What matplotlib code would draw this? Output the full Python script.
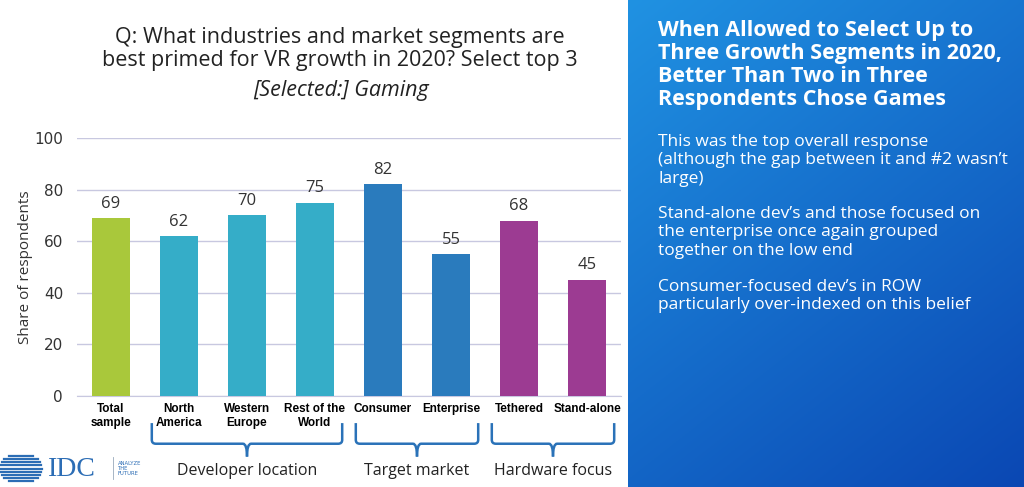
import matplotlib
matplotlib.use('Agg')
import matplotlib.pyplot as plt
import numpy as np
from matplotlib.path import Path
from matplotlib.patches import PathPatch

categories = ['Total\nsample', 'North\nAmerica', 'Western\nEurope', 'Rest of the\nWorld',
              'Consumer', 'Enterprise', 'Tethered', 'Stand-alone']
values = [69, 62, 70, 75, 82, 55, 68, 45]
bar_colors = ['#a9c83b', '#35adc8', '#35adc8', '#35adc8',
              '#2a7bbd', '#2a7bbd', '#9c3b92', '#9c3b92']
groups = ['Developer location', 'Target market', 'Hardware focus']
group_spans = [(1, 3), (4, 5), (6, 7)]

panel_title = ('When Allowed to Select Up to\nThree Growth Segments in 2020,\n'
               'Better Than Two in Three\nRespondents Chose Games')
bullets = ['This was the top overall response\n(although the gap between it and #2 wasn\u2019t\nlarge)',
           'Stand-alone dev\u2019s and those focused on\nthe enterprise once again grouped\ntogether on the low end',
           'Consumer-focused dev\u2019s in ROW\nparticularly over-indexed on this belief']

fig = plt.figure(figsize=(10.24, 4.87), dpi=100)
fig.patch.set_facecolor('white')

# right blue panel with gradient
pax = fig.add_axes([628 / 1024, 0, 396 / 1024, 1])
gx, gy = np.meshgrid(np.linspace(0, 1, 200), np.linspace(0, 1, 200))
t = np.clip(0.55 * gy + 0.35 * gx, 0, 1)
c1 = np.array([0x20, 0x92, 0xe2]) / 255
c2 = np.array([0x08, 0x3f, 0xae]) / 255
img = c1[None, None, :] * (1 - t[..., None]) + c2[None, None, :] * t[..., None]
pax.imshow(img, extent=[0, 1, 0, 1], aspect='auto', origin='upper')
pax.axis('off')

fig.text(658 / 1024, 1 - 20 / 487, panel_title, color='white', fontsize=15.5,
         fontweight='bold', family='Open Sans', va='top', ha='left', linespacing=1.12)
ys = [134, 206, 279]
for y, b in zip(ys, bullets):
    fig.text(658 / 1024, 1 - y / 487, b, color='white', fontsize=12.5,
             family='Open Sans', va='top', ha='left', linespacing=1.2)

# chart
ax = fig.add_axes([77 / 1024, 1 - 396 / 487, 544 / 1024, 258 / 487])
x = np.arange(len(categories))
bars = ax.bar(x, values, width=0.56, color=bar_colors, zorder=3)
for xi, v in zip(x, values):
    ax.text(xi, v + 2.5, str(v), ha='center', va='bottom', fontsize=12,
            family='Open Sans', color='#333333')
ax.set_xlim(-0.5, 7.5)
ax.set_ylim(0, 100)
ax.set_yticks([0, 20, 40, 60, 80, 100])
ax.grid(axis='y', color='#c8c8e0', linewidth=1, zorder=0)
for s in ['top', 'right', 'left']:
    ax.spines[s].set_visible(False)
ax.spines['bottom'].set_color('#c8c8e0')
ax.tick_params(axis='y', length=0, labelsize=11, colors='#333333', pad=10)
ax.tick_params(axis='x', length=0, pad=5)
ax.set_xticks(x)
ax.set_xticklabels(categories, fontsize=8.5, fontweight='bold', family='Liberation Sans')
ax.set_ylabel('Share of respondents', fontsize=11, family='Open Sans', color='#333333', labelpad=1)

# brackets
bc = '#2a72b8'
for (a, b), name in zip(group_spans, groups):
    x0, x1 = a - 0.4, b + 0.4
    xm = (x0 + x1) / 2
    ytop, ybot, ytip = -10.5, -18.5, -23.5
    r = 0.06
    verts = [(x0, ytop), (x0, ybot + 1.5), (x0, ybot), (x0 + r, ybot),
             (xm - r, ybot), (xm, ybot), (xm, ytip)]
    codes = [Path.MOVETO, Path.LINETO, Path.CURVE3, Path.CURVE3,
             Path.LINETO, Path.CURVE3, Path.CURVE3]
    ax.add_patch(PathPatch(Path(verts, codes), fill=False, edgecolor=bc, lw=1.8, clip_on=False))
    verts = [(x1, ytop), (x1, ybot + 1.5), (x1, ybot), (x1 - r, ybot),
             (xm + r, ybot), (xm, ybot), (xm, ytip)]
    ax.add_patch(PathPatch(Path(verts, codes), fill=False, edgecolor=bc, lw=1.8, clip_on=False))
    ax.text(xm, -29, name, ha='center', va='center', fontsize=11.5,
            family='Open Sans', color='#222222', clip_on=False)

# titles
fig.text(340 / 1024, 1 - 49 / 487, 'Q: What industries and market segments are\nbest primed for VR growth in 2020? Select top 3',
         ha='center', va='center', fontsize=15.5, family='Open Sans', color='#222222', linespacing=1.1)
fig.text(341 / 1024, 1 - 91 / 487, '[Selected:] Gaming', ha='center', va='center',
         fontsize=15.5, family='Open Sans', style='italic', color='#222222')

# IDC logo (y in pixels from figure bottom)
lax = fig.add_axes([0, 0, 160 / 1024, 40 / 487])
lax.set_xlim(0, 160)
lax.set_ylim(0, 40)
lax.axis('off')
for yy in np.linspace(6, 31, 9):
    half = np.sqrt(max(0, 13.5 ** 2 - (yy - 18.5) ** 2))
    lax.plot([28 - half - 14, 28 + half], [yy, yy], color='#2c6db5', lw=1.6)
lax.text(48, 18, 'IDC', fontsize=20, family='Liberation Serif', color='#2c6db5',
         va='center', ha='left')
lax.plot([113, 113], [8, 30], color='#9ab', lw=0.6)
lax.text(118, 18.5, 'ANALYZE\nTHE\nFUTURE', fontsize=3.8, color='#2c6db5', va='center',
         ha='left', linespacing=1.0)

fig.savefig('out.png', dpi=100)
